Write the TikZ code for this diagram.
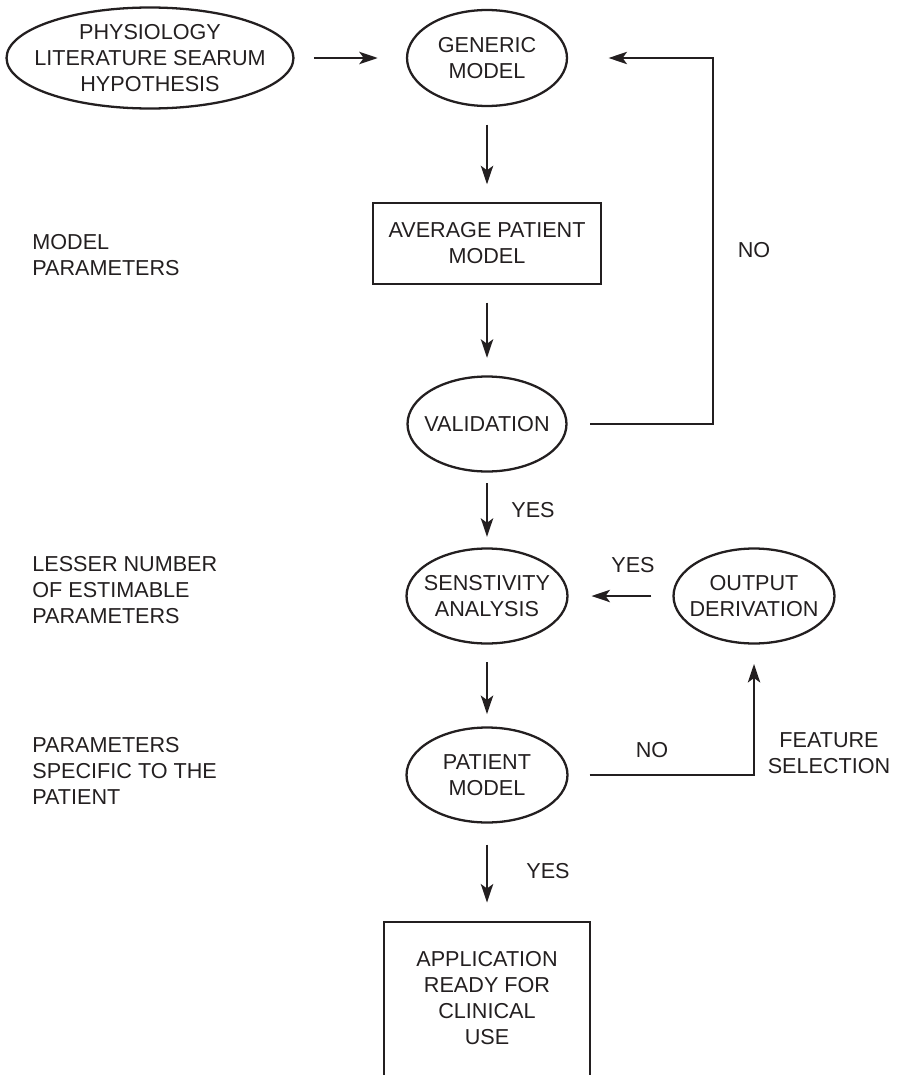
\documentclass[tikz,border=0pt]{standalone}
\usepackage{fontspec}
\setmainfont{Liberation Sans}
\usetikzlibrary{shapes.geometric,arrows.meta}
\definecolor{ink}{HTML}{231F20}

\begin{document}
\begin{tikzpicture}
[   x=0.02cm, y=-0.02cm,
    every node/.style={font=\fontsize{12.3}{14.8}\selectfont, text=ink},
    oval/.style={ellipse, draw=ink, line width=1.3pt, inner sep=-5mm, align=center},
    block/.style={rectangle, draw=ink, line width=1.3pt, inner sep=0, align=center},
    note/.style={anchor=west, align=left, inner sep=0},
    flow/.style={draw=ink, line width=1.35pt, -{Stealth[length=10.5pt, width=7pt, inset=2.5pt]}}
]
    \useasboundingbox (0,0) rectangle (896,1075);

    % main column
    \node[oval, minimum width=5.74cm, minimum height=2.02cm] (source) at (150,58)
        {PHYSIOLOGY\\LITERATURE SEARUM\\HYPOTHESIS};
    \node[oval, minimum width=3.2cm, minimum height=1.92cm] (generic) at (487,58)
        {GENERIC\\MODEL};
    \node[block, minimum width=4.56cm, minimum height=1.62cm] (average) at (487,243.5)
        {AVERAGE PATIENT\\MODEL};
    \node[oval, minimum width=3.18cm, minimum height=1.9cm] (valid) at (487,424)
        {VALIDATION};
    \node[oval, minimum width=3.22cm, minimum height=1.9cm] (sensitivity) at (487,596)
        {SENSTIVITY\\ANALYSIS};
    \node[oval, minimum width=3.22cm, minimum height=1.9cm] (output) at (754,596)
        {OUTPUT\\DERIVATION};
    \node[oval, minimum width=3.22cm, minimum height=1.9cm] (patient) at (487,775)
        {PATIENT\\MODEL};
    \node[block, draw=none, minimum width=4.08cm, minimum height=3cm] (app) at (487,998)
        {APPLICATION\\READY FOR\\CLINICAL\\USE};
    \draw[ink, line width=1.3pt] ([yshift=-6pt]app.south west) -- (app.north west)
        -- (app.north east) -- ([yshift=-6pt]app.south east);

    % side notes
    \node[note] (modelpar) at (32,255) {MODEL\\PARAMETERS};
    \node[note] (lesser) at (32,590) {LESSER NUMBER\\OF ESTIMABLE\\PARAMETERS};
    \node[note] (specific) at (32,771) {PARAMETERS\\SPECIFIC TO THE\\PATIENT};

    % connectors
    \coordinate (loop) at (713,424);
    \draw[flow, shorten <=11pt, shorten >=16pt] (source) -- (generic);
    \draw[flow, shorten <=10pt, shorten >=10pt] (generic) -- (average);
    \draw[flow, shorten <=10pt, shorten >=10pt] (average) -- (valid);
    \draw[flow, shorten <=6pt, shorten >=6pt] (valid) -- (sensitivity);
    \draw[flow, shorten <=10pt, shorten >=7pt] (sensitivity) -- (patient);
    \draw[flow, shorten <=12pt, shorten >=11pt] (patient) -- (app);
    \draw[flow, shorten <=12pt, shorten >=13pt] (output) -- (sensitivity);
    \draw[flow, shorten <=13pt, shorten >=23pt] (valid.east) -- (loop) |- (generic.east);
    \draw[flow, shorten <=12pt, shorten >=11pt] (patient.east) -| (output.south);

    % branch labels
    \node (yesvalid) at (533,510) {YES};
    \node (yesoutput) at (633,565) {YES};
    \node (yespatient) at (548,871) {YES};
    \node (novalid) at (754,250) {NO};
    \node (nopatient) at (652,750) {NO};
    \node[align=center] (feature) at (829,753) {FEATURE\\SELECTION};
\end{tikzpicture}
\end{document}
